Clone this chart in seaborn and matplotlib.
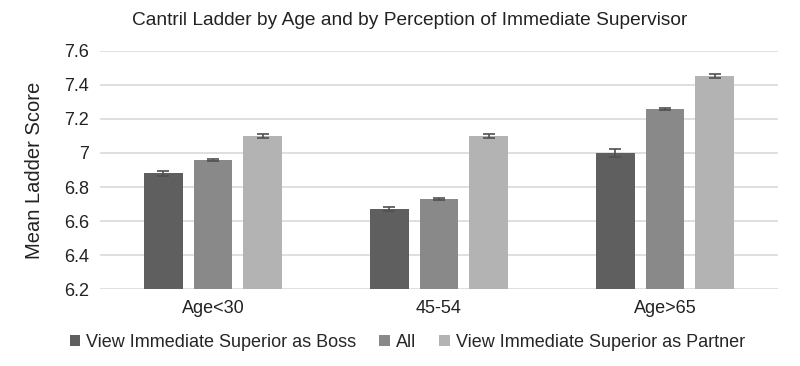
import matplotlib
matplotlib.use("Agg")
import matplotlib.pyplot as plt
import seaborn as sns
import pandas as pd

# data
ages = ["Age<30", "45-54", "Age>65"]
groups = ["View Immediate Superior as Boss", "All", "View Immediate Superior as Partner"]
boss = [6.88, 6.67, 7.00]
all_ = [6.96, 6.73, 7.26]
partner = [7.10, 7.10, 7.45]
boss_err = [0.013, 0.010, 0.022]
all_err = [0.006, 0.004, 0.005]
partner_err = [0.010, 0.010, 0.012]

colors = ["#5f5f5f", "#898989", "#b3b3b3"]

rows = []
for g, vals, errs in zip(groups, [boss, all_, partner], [boss_err, all_err, partner_err]):
    for a, v, e in zip(ages, vals, errs):
        rows.append({"age": a, "group": g, "score": v, "err": e})
df = pd.DataFrame(rows)

sns.set_style("white")
plt.rcParams['font.family'] = ['Liberation Sans', 'DejaVu Sans']

fig = plt.figure(figsize=(8, 3.66), dpi=100)
ax = fig.add_axes([0.125, 0.21, 0.8475, 0.651])

sns.barplot(data=df, x="age", y="score", hue="group", order=ages, hue_order=groups,
            palette=colors, width=0.66, gap=0.22, ax=ax, legend=True, zorder=2,
            linewidth=0)

# error bars on top of each bar
for bars, g in zip(ax.containers, groups):
    sub = df[df["group"] == g].set_index("age").loc[ages]
    xs = [b.get_x() + b.get_width() / 2 for b in bars]
    ax.errorbar(xs, sub["score"], yerr=sub["err"], fmt="none", ecolor="#505050",
                elinewidth=1.2, capsize=4, capthick=1.2, zorder=3)

ax.set_ylim(6.2, 7.6)
ax.set_yticks([6.2, 6.4, 6.6, 6.8, 7.0, 7.2, 7.4, 7.6])
ax.set_yticklabels(["6.2", "6.4", "6.6", "6.8", "7", "7.2", "7.4", "7.6"])
ax.yaxis.grid(True, color="#d9d9d9", linewidth=1.2, zorder=0)
ax.set_axisbelow(True)
for s in ax.spines.values():
    s.set_visible(False)
ax.tick_params(axis="both", length=0, labelsize=13, colors="#222222", pad=8)
ax.set_xlabel("")
ax.set_ylabel("Mean Ladder Score", fontsize=14.5, color="#222222", labelpad=14)
ax.set_xlim(-0.5, 2.5)

fig.suptitle("Cantril Ladder by Age and by Perception of Immediate Supervisor",
             fontsize=13.8, color="#222222", x=0.512, y=0.968)

ax.legend(loc="upper center", bbox_to_anchor=(0.453, -0.12), ncol=3, frameon=False,
          fontsize=13, handlelength=0.6, handleheight=0.6, handletextpad=0.3,
          columnspacing=1.3)

fig.savefig("out.png", dpi=100)
